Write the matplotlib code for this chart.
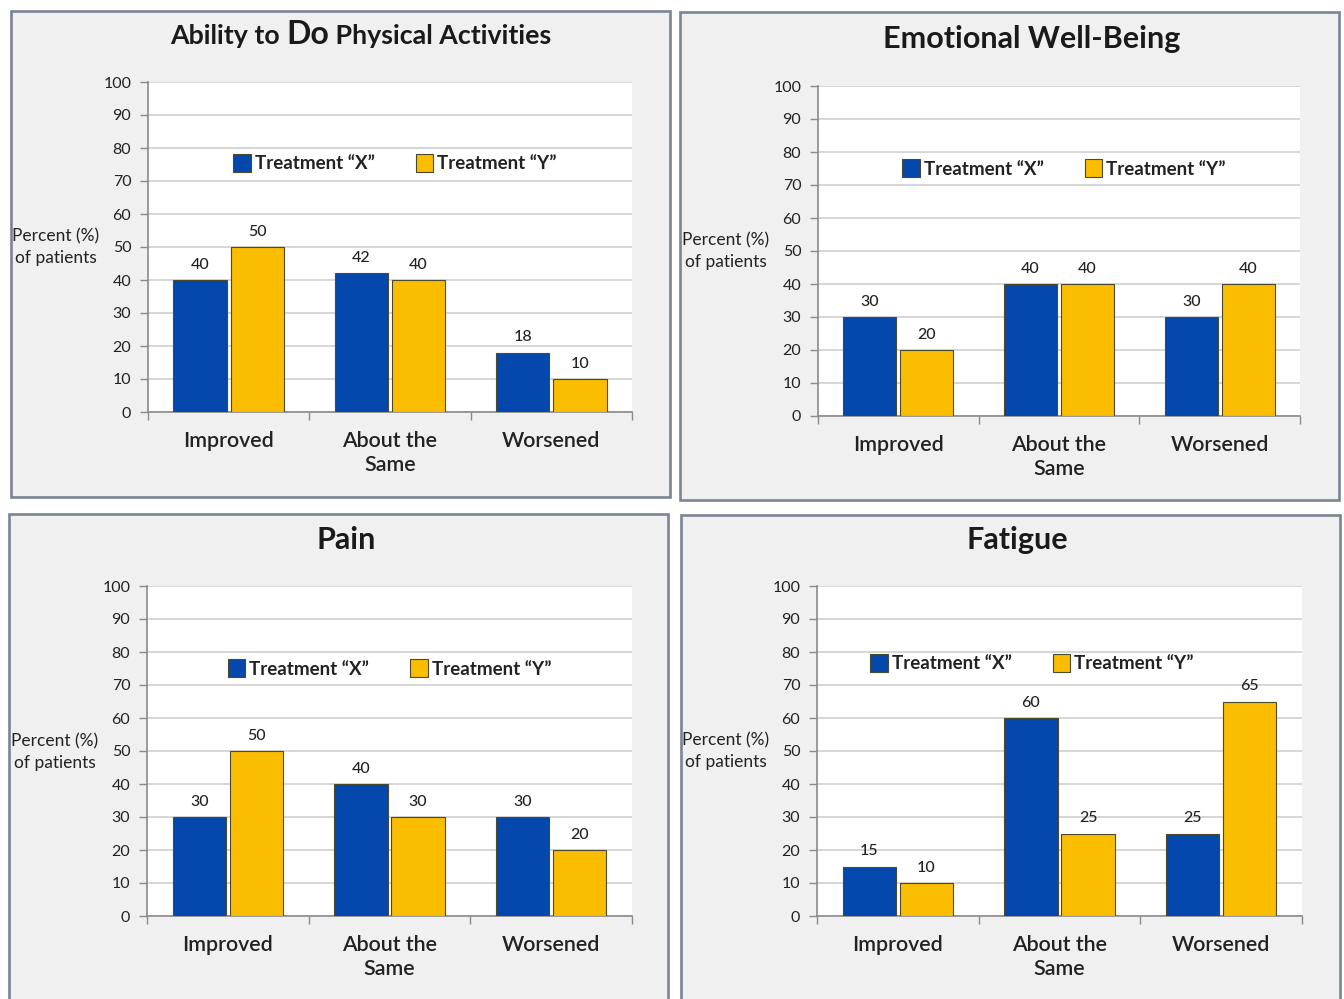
import matplotlib
matplotlib.use("Agg")
import matplotlib.pyplot as plt
from matplotlib.patches import Rectangle
import numpy as np

plt.rcParams['font.family'] = ['Lato', 'DejaVu Sans']

# ---- data ----
categories = ["Improved", "About the\nSame", "Worsened"]
series_names = ["Treatment \u201cX\u201d", "Treatment \u201cY\u201d"]

physical_x = [40, 42, 18]
physical_y = [50, 40, 10]
emotional_x = [30, 40, 30]
emotional_y = [20, 40, 40]
pain_x = [30, 40, 30]
pain_y = [50, 30, 20]
fatigue_x = [15, 60, 25]
fatigue_y = [10, 25, 65]

y_ticks = list(range(0, 101, 10))
y_label = "Percent (%)\nof patients"

BLUE = "#0448ad"
GOLD = "#fbbd00"
EDGE = "#4a4a2a"
PANEL_BG = "#f0f0f0"
PANEL_EDGE = "#7a8494"
GRID = "#cfcfcf"
AXIS = "#8a8a8a"
TEXT = "#222222"

W, H = 1344, 999
fig = plt.figure(figsize=(W / 100, H / 100), dpi=100)
fig.patch.set_facecolor("white")


def px_rect(x0, y0, x1, y1):
    """Convert a pixel box (top-left origin) to figure fractions."""
    return [x0 / W, 1 - y1 / H, (x1 - x0) / W, (y1 - y0) / H]


def panel_frame(x0, y0, x1, y1):
    l, b, w, h = px_rect(x0, y0, x1, y1)
    fig.patches.append(Rectangle((l, b), w, h, transform=fig.transFigure,
                                 facecolor=PANEL_BG, edgecolor=PANEL_EDGE,
                                 linewidth=1.9, zorder=-5))


def draw_chart(box, xs, ys, legend_anchor, ylabel_xy):
    ax = fig.add_axes(px_rect(*box))
    ax.set_facecolor("white")
    idx = np.arange(len(categories))
    bw = 0.33
    off = 0.177
    b1 = ax.bar(idx - off, xs, bw, color=BLUE, edgecolor=EDGE, linewidth=0.8,
                label=series_names[0], zorder=3)
    b2 = ax.bar(idx + off, ys, bw, color=GOLD, edgecolor=EDGE, linewidth=0.8,
                label=series_names[1], zorder=3)
    for bars in (b1, b2):
        ax.bar_label(bars, padding=6, fontsize=11.5, color=TEXT,
                     fontweight='medium')

    ax.set_xlim(-0.5, len(categories) - 0.5)
    ax.set_ylim(0, 100)
    ax.set_yticks(y_ticks)
    ax.tick_params(axis='y', length=6, width=1, color=AXIS, labelsize=11.5,
                   labelcolor=TEXT, pad=6)
    ax.yaxis.grid(True, color=GRID, linewidth=1.2, zorder=0)
    ax.set_axisbelow(True)

    # category boundary ticks on the x axis, labels centred between them
    ax.set_xticks(np.arange(len(categories) + 1) - 0.5)
    ax.set_xticklabels([])
    ax.tick_params(axis='x', length=6, width=1, color=AXIS)
    ax.set_xticks(idx, minor=True)
    ax.set_xticklabels(categories, minor=True, fontsize=15.4, color=TEXT,
                       fontweight='semibold', linespacing=1.2)
    ax.tick_params(axis='x', which='minor', length=0, pad=14)

    for s in ("top", "right"):
        ax.spines[s].set_visible(False)
    for s in ("left", "bottom"):
        ax.spines[s].set_color(AXIS)
        ax.spines[s].set_linewidth(1.2)

    ax.legend(loc='center', bbox_to_anchor=legend_anchor, ncol=2, frameon=False,
              prop={'weight': 'bold', 'size': 13.5},
              handlelength=0.95, handleheight=1.1, handletextpad=0.2,
              columnspacing=2.2, labelcolor=TEXT)
    fig.text(ylabel_xy[0] / W, 1 - ylabel_xy[1] / H, y_label, ha='center',
             va='center', fontsize=12.5, color=TEXT, linespacing=1.4)
    return ax


def title_parts(parts, cx, cy):
    """Draw a title made of pieces with different sizes, centred at cx."""
    renderer = fig.canvas.get_renderer()
    texts = []
    for s, size in parts:
        t = fig.text(0, 1 - cy / H, s, fontsize=size, fontweight='bold',
                     color="#1a1a1a", va='baseline', ha='left')
        texts.append(t)
    widths = [t.get_window_extent(renderer).width for t in texts]
    total = sum(widths)
    x = cx - total / 2
    for t, w in zip(texts, widths):
        t.set_x(x / W)
        x += w


# panel frames
panel_frame(11, 11, 670, 497)
panel_frame(680, 12, 1339, 500)
panel_frame(9, 514, 668, 1010)
panel_frame(681, 515, 1340, 1010)

# charts
draw_chart((148, 82, 632, 412), physical_x, physical_y, (0.51, 0.755), (56, 247))
draw_chart((818, 86, 1300, 416), emotional_x, emotional_y, (0.51, 0.75), (726, 251))
draw_chart((147, 586, 632, 916), pain_x, pain_y, (0.50, 0.75), (55, 752))
draw_chart((817, 586, 1302, 916), fatigue_x, fatigue_y, (0.443, 0.767), (726, 751))

# titles
title_parts([("Ability to ", 19.3), ("Do", 23), (" Physical Activities", 19.3)], 361, 44)
title_parts([("Emotional Well-Being", 22)], 1032, 48)
title_parts([("Pain", 22)], 346, 549)
title_parts([("Fatigue", 22)], 1017, 549)

fig.savefig("out.png", dpi=100, facecolor=fig.get_facecolor())
